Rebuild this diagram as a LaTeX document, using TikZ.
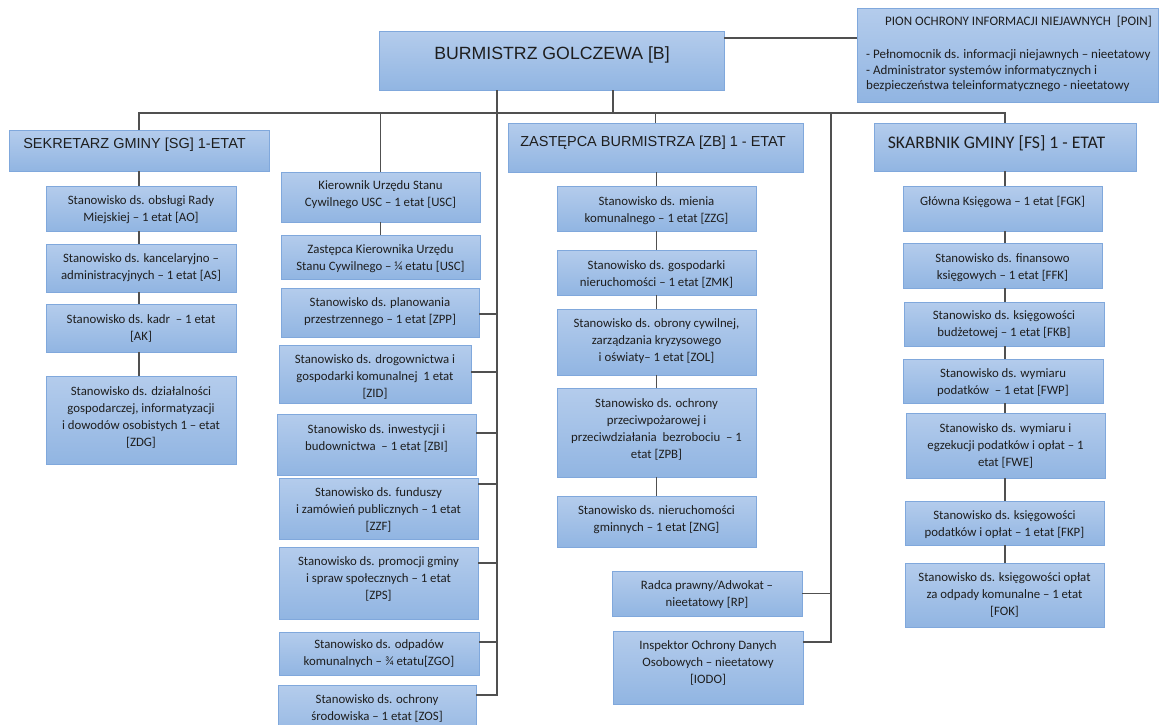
\documentclass[tikz,border=0pt]{standalone}
\usepackage{fontspec}
\setmainfont{Carlito}
\newfontfamily\arialf{Liberation Sans}
\usetikzlibrary{shadows,calc}
\definecolor{boxtop}{RGB}{180,204,236}
\definecolor{boxbot}{RGB}{145,181,226}
\definecolor{boxedge}{RGB}{128,168,220}
\definecolor{lin}{RGB}{80,80,80}
\definecolor{ink}{RGB}{30,30,30}
\tikzset{
  orgbox/.style={rectangle, draw=boxedge, line width=0.9pt, top color=boxtop, bottom color=boxbot,
    inner sep=0pt, outer sep=0pt, drop shadow={shadow xshift=1.2pt, shadow yshift=-1.2pt, opacity=0.18}},
  smalltxt/.style={align=center, text=ink, font=\fontsize{12.8}{17}\selectfont, inner sep=0pt},
  titlebig/.style={text=ink, font=\arialf\fontsize{17.7}{20}\selectfont, inner sep=0pt},
  titlemid/.style={text=ink, font=\arialf\fontsize{14.5}{17}\selectfont, inner sep=0pt},
  titlecal/.style={text=ink, font=\fontsize{17.7}{20}\selectfont, inner sep=0pt},
  pointxt/.style={text=ink, font=\fontsize{13}{15.5}\selectfont, inner sep=0pt, align=left},
  conn/.style={draw=lin, line width=1.3pt},
}
\newcommand{\orgnode}[8][smalltxt]{%
  \node[orgbox, minimum width={#5-#3}, minimum height={#6-#4}] (#2) at ({(#3+#5)/2},{(#4+#6)/2}) {};
  \node[#1] (#2-t) at ({(#3+#5)/2},#7) {#8};}
\begin{document}
\begin{tikzpicture}[x=1pt,y=-1pt]
\fill[white] (0,0) rectangle (1161,724);
\useasboundingbox (0,0) rectangle (1161,724);
\clip (0,0) rectangle (1161,724);

% top level
\node[orgbox, minimum width=345, minimum height=59] (b) at (551.5,60.5) {};
\node[titlebig] (b-t) at (552,55) {BURMISTRZ GOLCZEWA [B]};

\node[orgbox, minimum width=301, minimum height=94] (poin) at (1007.5,55) {};
\node[pointxt, anchor=west] (poin-t) at (885,22) {PION OCHRONY INFORMACJI NIEJAWNYCH \ [POIN]};
\node[pointxt, anchor=west] (poin-b) at (866,71) {- Pełnomocnik ds. informacji niejawnych – nieetatowy\\- Administrator systemów informatycznych i\\bezpieczeństwa teleinformatycznego - nieetatowy};

% second level
\node[orgbox, minimum width=260, minimum height=41] (sg) at (139,150.5) {};
\node[titlemid] (sg-t) at (134.5,145) {SEKRETARZ GMINY [SG] 1-ETAT};
\node[orgbox, minimum width=295, minimum height=49] (zb) at (655.5,147.5) {};
\node[titlemid] (zb-t) at (653,143) {ZASTĘPCA BURMISTRZA [ZB] 1 - ETAT};
\node[orgbox, minimum width=262, minimum height=48] (fs) at (1005,147) {};
\node[titlecal] (fs-t) at (996.5,143) {SKARBNIK GMINY [FS] 1 - ETAT};

% column 1
\orgnode{ao}{46}{186}{236}{231}{210}{Stanowisko ds. obsługi Rady\\Miejskiej – 1 etat [AO]}
\orgnode{as}{46}{244}{236}{292}{267.5}{Stanowisko ds. kancelaryjno –\\administracyjnych – 1 etat [AS]}
\orgnode{ak}{46}{304}{236}{352}{328}{Stanowisko ds. kadr \ – 1 etat\\{}[AK]}
\orgnode{zdg}{46}{376}{236}{464}{417}{Stanowisko ds. działalności\\gospodarczej, informatyzacji\\i dowodów osobistych 1 – etat\\{}[ZDG]}

% column 2
\orgnode{usc}{281}{172}{480}{222}{194.5}{Kierownik Urzędu Stanu\\Cywilnego USC – 1 etat [USC]}
\orgnode{usc2}{281}{235}{480}{279}{258.5}{Zastępca Kierownika Urzędu\\Stanu Cywilnego – ¼ etatu [USC]}
\orgnode{zpp}{281}{288}{479}{337}{311.5}{Stanowisko ds. planowania\\przestrzennego – 1 etat [ZPP]}
\orgnode{zid}{279}{345}{471}{403}{377}{Stanowisko ds. drogownictwa i\\gospodarki komunalnej \ 1 etat\\{}[ZID]}
\orgnode{zbi}{277}{414}{476}{475}{438.5}{Stanowisko ds. inwestycji i\\budownictwa \ – 1 etat [ZBI]}
\orgnode{zzf}{279}{478}{478}{539}{510}{Stanowisko ds. funduszy\\i zamówień publicznych – 1 etat\\{}[ZZF]}
\orgnode{zps}{279}{547}{478}{619}{579}{Stanowisko ds. promocji gminy\\i spraw społecznych – 1 etat\\{}[ZPS]}
\orgnode{zgo}{279}{632}{479}{675}{653.5}{Stanowisko ds. odpadów\\komunalnych – ¾ etatu[ZGO]}
\orgnode{zos}{278}{685}{476}{745}{708.5}{Stanowisko ds. ochrony\\środowiska – 1 etat [ZOS]}

% column 3
\orgnode{zzg}{557}{186}{756}{231}{210.5}{Stanowisko ds. mienia\\komunalnego – 1 etat [ZZG]}
\orgnode{zmk}{557}{250}{756}{295}{274.5}{Stanowisko ds. gospodarki\\nieruchomości – 1 etat [ZMK]}
\orgnode{zol}{557}{309}{756}{375}{341}{Stanowisko ds. obrony cywilnej,\\zarządzania kryzysowego\\i oświaty– 1 etat [ZOL]}
\orgnode{zpb}{557}{388}{756}{477}{429.5}{Stanowisko ds. ochrony\\przeciwpożarowej i\\przeciwdziałania \ bezrobociu \ – 1\\etat [ZPB]}
\orgnode{zng}{557}{496}{756}{547}{520}{Stanowisko ds. nieruchomości\\gminnych – 1 etat [ZNG]}
\orgnode{rp}{612}{571}{802}{616}{594.5}{Radca prawny/Adwokat –\\nieetatowy [RP]}
\orgnode{iodo}{613}{631}{803}{704}{662.5}{Inspektor Ochrony Danych\\Osobowych – nieetatowy\\{}[IODO]}

% column 4
\orgnode{fgk}{903}{186}{1102}{231}{202}{Główna Księgowa – 1 etat [FGK]}
\orgnode{ffk}{903}{243}{1102}{288}{267.5}{Stanowisko ds. finansowo\\księgowych – 1 etat [FFK]}
\orgnode{fkb}{904}{302}{1104}{346}{325}{Stanowisko ds. księgowości\\budżetowej – 1 etat [FKB]}
\orgnode{fwp}{903}{359}{1103}{403}{382.5}{Stanowisko ds. wymiaru\\podatków \ – 1 etat [FWP]}
\orgnode{fwe}{906}{413}{1105}{478}{446}{Stanowisko ds. wymiaru i\\egzekucji podatków i opłat – 1\\etat [FWE]}
\orgnode{fkp}{905}{501}{1104}{545}{524.5}{Stanowisko ds. księgowości\\podatków i opłat – 1 etat [FKP]}
\orgnode{fok}{905}{563}{1104}{627}{595}{Stanowisko ds. księgowości opłat\\za odpady komunalne – 1 etat\\{}[FOK]}

% helper coordinates
\coordinate (busy) at (0,113);
\coordinate (mx) at (497,0);
\coordinate (bx) at (613,0);
\coordinate (rx) at (831,0);

% connectors
\draw[conn] ([yshift=-7pt]b.north east) -- ([yshift=-7pt]b.north east -| poin.west);
\draw[conn] (b.south -| bx) -- (bx |- busy);
\draw[conn] (sg.north) |- (fs.north |- busy) -- (fs.north);
\draw[conn] (usc.north |- busy) -- (usc.north);
\draw[conn] (zb.north |- busy) -- (zb.north);
\draw[conn] (b.south -| mx) |- ([yshift=-10pt]zos.north east);
\draw[conn] ([yshift=-11pt]iodo.north east) -| (rx |- busy);
\draw[conn] (rp.east) -- (rp.east -| rx);

% column 1 chain
\draw[conn] (sg.south) -- (sg.south |- ao.north);
\draw[conn] (ao.south -| sg.south) -- (sg.south |- as.north);
\draw[conn] (as.south -| sg.south) -- (sg.south |- ak.north);
\draw[conn] (ak.south -| sg.south) -- (sg.south |- zdg.north);

% column 2
\draw[conn] (usc.south) -- (usc.south |- usc2.north);
\draw[conn] ([yshift=-26pt]zpp.north east) -- ([yshift=-26pt]zpp.north east -| mx);
\draw[conn] ([yshift=-27pt]zid.north east) -- ([yshift=-27pt]zid.north east -| mx);
\draw[conn] ([yshift=-19pt]zbi.north east) -- ([yshift=-19pt]zbi.north east -| mx);
\draw[conn] ([yshift=-6pt]zzf.north east) -- ([yshift=-6pt]zzf.north east -| mx);
\draw[conn] ([yshift=-16pt]zps.north east) -- ([yshift=-16pt]zps.north east -| mx);
\draw[conn] ([yshift=-10pt]zgo.north east) -- ([yshift=-10pt]zgo.north east -| mx);

% column 3 chain
\draw[conn] (zb.south -| zzg.north) -- (zzg.north);
\draw[conn] (zzg.south) -- (zmk.north);
\draw[conn] (zmk.south) -- (zol.north);
\draw[conn] (zol.south) -- (zpb.north);
\draw[conn] (zpb.south) -- (zng.north);

% column 4 chain
\draw[conn] (fs.south) -- (fs.south |- fgk.north);
\draw[conn] (fgk.south -| fs.south) -- (fs.south |- ffk.north);
\draw[conn] (ffk.south -| fs.south) -- (fs.south |- fkb.north);
\draw[conn] (fkb.south -| fs.south) -- (fs.south |- fwp.north);
\draw[conn] (fwp.south -| fs.south) -- (fs.south |- fwe.north);
\draw[conn] (fwe.south -| fs.south) -- (fs.south |- fkp.north);
\draw[conn] (fkp.south -| fs.south) -- (fs.south |- fok.north);
\end{tikzpicture}
\end{document}
